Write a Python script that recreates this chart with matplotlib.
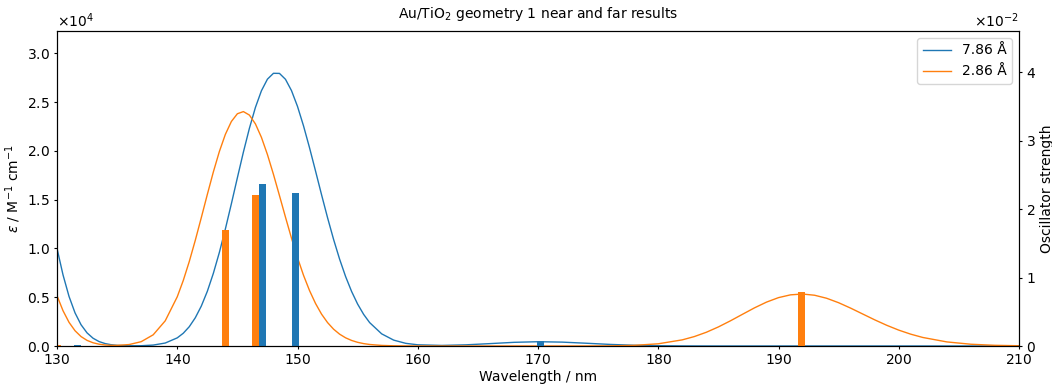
import matplotlib
matplotlib.use("Agg")
import matplotlib.pyplot as plt
from matplotlib.ticker import MultipleLocator

plt.rcParams['font.family'] = ['DejaVu Sans']
plt.rcParams['axes.formatter.use_mathtext'] = True
plt.rcParams['xtick.major.size'] = 2.5
plt.rcParams['ytick.major.size'] = 2.5
plt.rcParams['xtick.major.pad'] = 2.5
plt.rcParams['ytick.major.pad'] = 2.5

# Broadened spectra (wavelength / nm, epsilon / M^-1 cm^-1)
wavelength = [130, 130.5, 131, 131.5, 132, 132.5, 133, 133.5, 134, 134.5, 135, 136, 137, 138, 139, 140,
              140.5, 141, 141.5, 142, 142.5, 143, 143.5, 144, 144.5, 145, 145.5, 146, 146.5, 147, 147.5,
              148, 148.5, 149, 149.5, 150, 150.5, 151, 151.5, 152, 152.5, 153, 153.5, 154, 154.5, 155,
              155.5, 156, 157, 158, 159, 160, 162, 164, 166, 168, 170, 172, 174, 176, 178, 180, 182, 183,
              184, 185, 186, 187, 188, 189, 190, 191, 192, 193, 194, 195, 196, 197, 198, 199, 200, 201,
              202, 204, 206, 208, 210]

eps_786 = [10010, 7293, 5083, 3396, 2179, 1343, 795, 453, 249, 132, 68, 22, 28, 95, 304, 834,
           1307, 1978, 2894, 4091, 5603, 7443, 9586, 11990, 14579, 17251, 19878, 22321, 24461, 26172, 27362,
           27962, 27952, 27347, 26189, 24568, 22574, 20330, 17941, 15511, 13153, 10932, 8910, 7123, 5589, 4298,
           3244, 2399, 1245, 602, 273, 123, 58, 120, 244, 376, 439, 398, 284, 162, 75, 29, 9, 5,
           2, 1, 0, 0, 0, 0, 0, 0, 0, 0, 0, 0, 0, 0, 0, 0, 0, 0,
           0, 0, 0, 0, 0]

eps_286 = [5161, 3620, 2428, 1564, 967, 575, 330, 184, 105, 68, 64, 149, 442, 1149, 2581, 5046,
           6717, 8663, 10839, 13162, 15534, 17838, 19934, 21697, 23019, 23815, 24036, 23679, 22775, 21394, 19630,
           17601, 15424, 13212, 11059, 9057, 7252, 5684, 4359, 3267, 2400, 1725, 1215, 839, 569, 377,
           245, 156, 60, 21, 7, 2, 0, 0, 0, 0, 0, 0, 3, 15, 65, 227, 630, 967,
           1409, 1955, 2580, 3248, 3909, 4499, 4960, 5246, 5329, 5205, 4896, 4438, 3883, 3282, 2683, 2124, 1628, 1212,
           875, 419, 180, 70, 25]

# Stick spectra (wavelength / nm, oscillator strength)
sticks_786_wl = [131.7, 147.08, 149.83, 170.2]
sticks_786_f = [0.0002, 0.02365, 0.02234, 0.0007]
sticks_286_wl = [130.0, 144.0, 146.5, 191.9]
sticks_286_f = [0.0002, 0.01693, 0.02204, 0.00788]

labels = ['7.86 Å', '2.86 Å']
c_blue = '#1f77b4'
c_orange = '#ff7f0e'

fig = plt.figure(figsize=(10.52, 3.85), dpi=100)
ax = fig.add_axes([57 / 1052, 39 / 385, 962 / 1052, 315 / 385])
ax.plot(wavelength, eps_786, color=c_blue, lw=1.0, label=labels[0])
ax.plot(wavelength, eps_286, color=c_orange, lw=1.0, label=labels[1])
ax.set_xlim(130, 210)
ax.set_ylim(0, 32300)
ax.xaxis.set_major_locator(MultipleLocator(10))
ax.yaxis.set_major_locator(MultipleLocator(5000))
ax.ticklabel_format(axis='y', style='sci', scilimits=(0, 0))
ax.set_xlabel('Wavelength / nm', fontsize=10, labelpad=2)
ax.set_ylabel(r'$\epsilon$ / M$^{-1}$ cm$^{-1}$', fontsize=10, labelpad=3)
ax.set_title(r'Au/TiO$_2$ geometry 1 near and far results', fontsize=10, pad=9)
ax.legend(loc='upper right', fontsize=10)

ax2 = ax.twinx()
ax2.bar(sticks_786_wl, sticks_786_f, width=0.6, color=c_blue)
ax2.bar(sticks_286_wl, sticks_286_f, width=0.6, color=c_orange)
ax2.set_ylim(0, 0.046)
ax2.yaxis.set_major_locator(MultipleLocator(0.01))
ax2.ticklabel_format(axis='y', style='sci', scilimits=(0, 0))
ax2.set_ylabel('Oscillator strength', fontsize=10, labelpad=3)
ax2.set_xlim(130, 210)

fig.savefig('out.png', dpi=100)
